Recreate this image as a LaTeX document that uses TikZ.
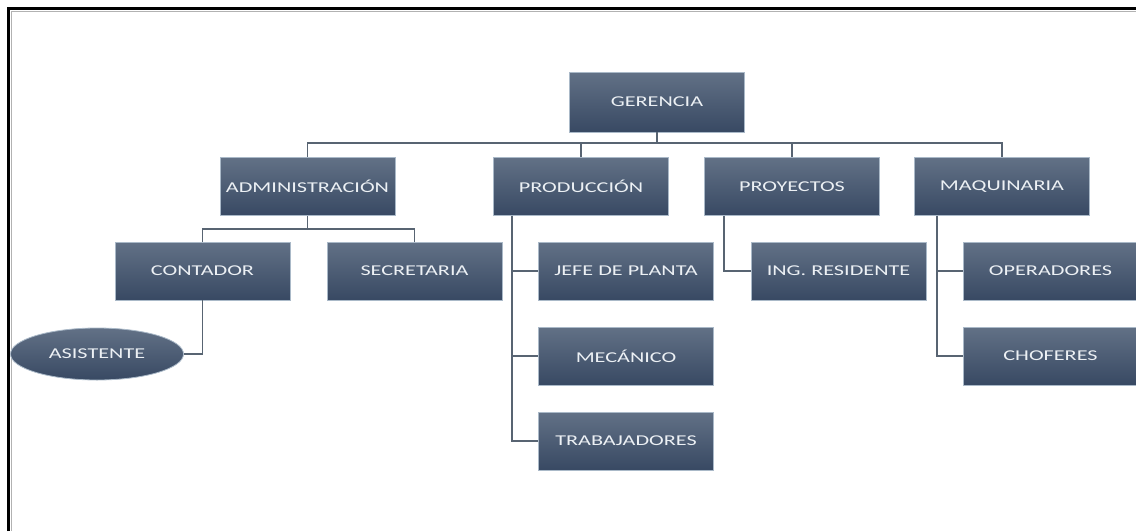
\documentclass[tikz,border=0pt]{standalone}
\usepackage{fontspec}
\usepackage{graphicx}
\usetikzlibrary{shapes.geometric,calc}
\newfontfamily\boxfont{Carlito}
\definecolor{boxtop}{RGB}{98,113,134}
\definecolor{boxbot}{RGB}{56,73,99}
\definecolor{boxedge}{RGB}{170,185,200}
\definecolor{linkcol}{RGB}{88,100,114}
\definecolor{labelcol}{RGB}{236,240,244}
\newcommand{\lbl}[1]{\scalebox{1.48}[1]{#1}}
\begin{document}
\begin{tikzpicture}[x=1pt,y=-1pt,
  unit/.style={rectangle, minimum width=175pt, minimum height=58pt,
    top color=boxtop, bottom color=boxbot, draw=boxedge, line width=0.8pt,
    text=labelcol, font=\boxfont\fontsize{15}{17}\selectfont, inner sep=0pt},
  oval/.style={ellipse, minimum width=173pt, minimum height=52pt,
    top color=boxtop, bottom color=boxbot, draw=boxedge, line width=0.8pt,
    text=labelcol, font=\boxfont\fontsize{15}{17}\selectfont, inner sep=0pt},
  link/.style={draw=linkcol, line width=1.4pt}]
\useasboundingbox (0,0) rectangle (1136,531);
\fill[white] (0,0) rectangle (1136,531);
% page frame (top and left edges)
\draw[gray!60, line width=1pt] (11,531) -- (11,11) -- (1136,11);
\draw[black, line width=3pt] (8.5,531) -- (8.5,8.5) -- (1136,8.5);

% connector levels
\coordinate (topbus) at (0,143);
\coordinate (admbus) at (0,229);
\coordinate (prodx) at (512,0);
\coordinate (proyx) at (724,0);
\coordinate (maqx) at (937,0);

% nodes
\node[unit, minimum height=60pt] (ger) at (657,102) {\lbl{GERENCIA}};
\node[unit] (adm)  at (307.5,186.5) {\lbl{ADMINISTRACIÓN}};
\node[unit] (prod) at (581,186.5)   {\lbl{PRODUCCIÓN}};
\node[unit] (proy) at (792,186.5)   {\lbl{PROYECTOS}};
\node[unit] (maq)  at (1002,186.5)  {\lbl{MAQUINARIA}};
\node[unit] (cont) at (202.5,271)   {\lbl{CONTADOR}};
\node[unit] (secr) at (414.5,271)   {\lbl{SECRETARIA}};
\node[unit] (jefe) at (626,271)     {\lbl{JEFE DE PLANTA}};
\node[unit] (mec)  at (626,356)     {\lbl{MECÁNICO}};
\node[unit] (trab) at (626,441)     {\lbl{TRABAJADORES}};
\node[unit] (ing)  at (838.5,271)   {\lbl{ING. RESIDENTE}};
\node[unit] (oper) at (1050.5,271)  {\lbl{OPERADORES}};
\node[unit] (chof) at (1050.5,356)  {\lbl{CHOFERES}};
\node[oval] (asis) at (97,354)      {\lbl{ASISTENTE}};

% connectors
\draw[link] (ger.south) -- (ger.south |- topbus);
\draw[link] (adm.north) -- (adm.north |- topbus) -- (maq.north |- topbus) -- (maq.north);
\draw[link] (prod.north) -- (prod.north |- topbus);
\draw[link] (proy.north) -- (proy.north |- topbus);

\draw[link] (adm.south) -- (adm.south |- admbus);
\draw[link] (cont.north) -- (cont.north |- admbus) -- (secr.north |- admbus) -- (secr.north);
\draw[link] (cont.south) |- (asis.east);

\draw[link] (prod.south -| prodx) |- (trab.west);
\draw[link] (prod.south -| prodx) |- (jefe.west);
\draw[link] (prod.south -| prodx) |- (mec.west);

\draw[link] (proy.south -| proyx) |- (ing.west);

\draw[link] (maq.south -| maqx) |- (chof.west);
\draw[link] (maq.south -| maqx) |- (oper.west);
\end{tikzpicture}
\end{document}
